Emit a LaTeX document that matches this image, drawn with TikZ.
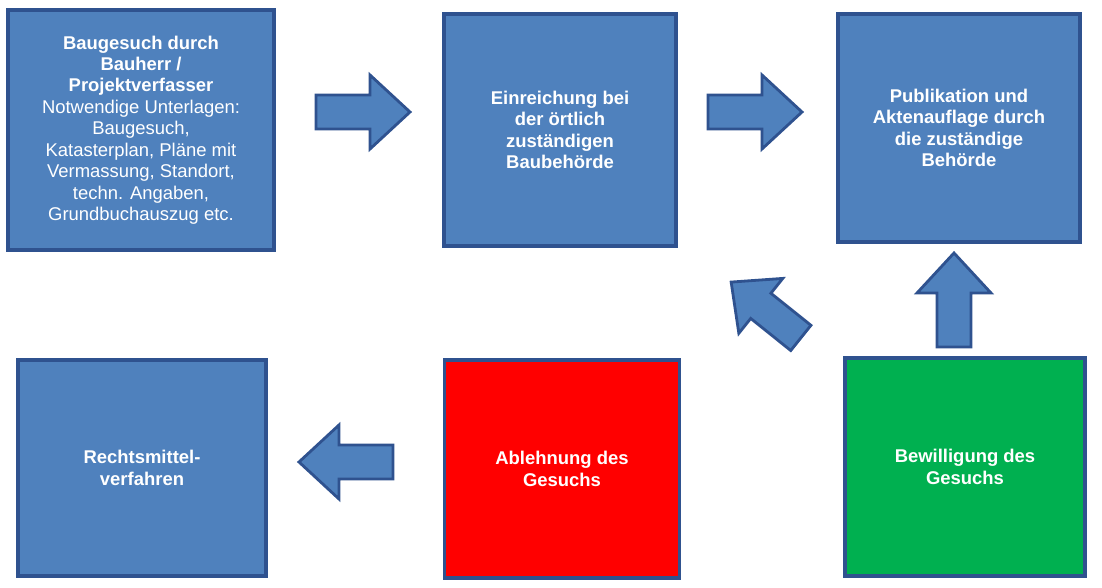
\documentclass[tikz,border=0pt]{standalone}
\usepackage{fontspec}
\setmainfont{Liberation Sans}
\begin{document}
\begin{tikzpicture}[x=0.02cm,y=-0.02cm,
  box/.style={draw={rgb,255:red,47;green,82;blue,143}, line width=2.2pt, fill={rgb,255:red,79;green,129;blue,189}, text=white, align=center, inner sep=2pt, font=\bfseries\fontsize{10.5}{12.2}\selectfont},
  arr/.style={fill={rgb,255:red,79;green,129;blue,189}, draw={rgb,255:red,47;green,82;blue,143}, line width=1.6pt, line join=miter},
  pics/barrow/.style={code={\path[arr] (-47,-17)--(7,-17)--(7,-37)--(47,0)--(7,37)--(7,17)--(-47,17)--cycle;}}]
\useasboundingbox (0,0) rectangle (1102,588);
\node[box, font=\fontsize{10.5}{12.2}\selectfont, minimum width=5.32cm, minimum height=4.8cm] (a) at (141,130) {\textbf{Baugesuch durch}\\\textbf{Bauherr /}\\\textbf{Projektverfasser}\\Notwendige Unterlagen:\\Baugesuch,\\Katasterplan, Pläne mit\\Vermassung, Standort,\\techn. Angaben,\\Grundbuchauszug etc.};
\node[box, minimum width=4.64cm, minimum height=4.64cm] (b) at (560,130) {Einreichung bei\\der örtlich\\zuständigen\\Baubehörde};
\node[box, minimum width=4.84cm, minimum height=4.56cm] (c) at (959,128) {Publikation und\\Aktenauflage durch\\die zuständige\\Behörde};
\node[box, minimum width=4.96cm, minimum height=4.32cm] (d) at (142,468) {Rechtsmittel-\\verfahren};
\node[box, fill=red, minimum width=4.7cm, minimum height=4.36cm] (e) at (562,469) {Ablehnung des\\Gesuchs};
\node[box, fill={rgb,255:red,0;green,176;blue,80}, minimum width=4.8cm, minimum height=4.36cm] (f) at (965,467) {Bewilligung des\\Gesuchs};
\pic[rotate=0] at (363,112) {barrow};
\pic[rotate=0] at (755,112) {barrow};
\pic[rotate=90] at (954,300) {barrow};
\pic[rotate=141.3, scale=0.95] at (766,310) {barrow};
\pic[rotate=180] at (346,462) {barrow};
\end{tikzpicture}
\end{document}
